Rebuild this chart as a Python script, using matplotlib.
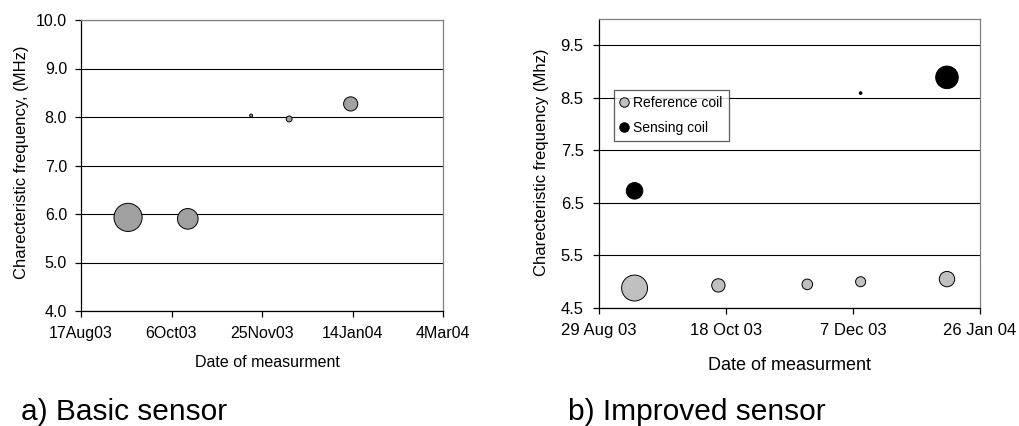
import datetime as dt
import matplotlib
matplotlib.use("Agg")
import matplotlib.pyplot as plt
from matplotlib.lines import Line2D

plt.rcParams['font.family'] = ['Liberation Sans', 'DejaVu Sans']

# ---- data -------------------------------------------------------------
# a) Basic sensor
basic_dates = ["2003-09-12", "2003-10-15", "2003-11-19", "2003-12-10", "2004-01-13"]
basic_freq = [5.93, 5.90, 8.03, 7.96, 8.27]
basic_size = [205, 110, 2.3, 9, 52]

# b) Improved sensor
ref_dates = ["2003-09-12", "2003-10-15", "2003-11-19", "2003-12-10", "2004-01-13"]
ref_freq = [4.88, 4.93, 4.95, 5.00, 5.05]
ref_size = [174, 46, 29, 26, 61]

sens_dates = ["2003-09-12", "2003-12-10", "2004-01-13"]
sens_freq = [6.73, 8.59, 8.89]
sens_size = [71, 1.8, 132]

basic_xticks = ["2003-08-17", "2003-10-06", "2003-11-25", "2004-01-14", "2004-03-04"]
basic_xticklabels = ["17Aug03", "6Oct03", "25Nov03", "14Jan04", "4Mar04"]
basic_yticks = [4.0, 5.0, 6.0, 7.0, 8.0, 9.0, 10.0]

improved_xticks = ["2003-08-29", "2003-10-18", "2003-12-07", "2004-01-26"]
improved_xticklabels = ["29 Aug 03", "18 Oct 03", "7 Dec 03", "26 Jan 04"]
improved_yticks = [4.5, 5.5, 6.5, 7.5, 8.5, 9.5]

# bubble size value -> marker area in pt^2
SIZE_TO_PT2 = 2.0


def to_dates(seq):
    return [dt.datetime.strptime(s, "%Y-%m-%d") for s in seq]


def style_axes(ax, xticks, xlabels, yticks, ylim, tick_fs, xpad, ypad):
    xt = to_dates(xticks)
    ax.set_xlim(xt[0], xt[-1])
    ax.set_xticks(xt)
    ax.set_xticklabels(xlabels)
    ax.set_ylim(*ylim)
    ax.set_yticks(yticks)
    ax.set_yticklabels([f"{v:.1f}" for v in yticks])
    ax.yaxis.grid(True, color="black", linewidth=0.8)
    ax.set_axisbelow(True)
    for side in ("left", "bottom"):
        ax.spines[side].set_color("black")
        ax.spines[side].set_linewidth(0.9)
    for side in ("top", "right"):
        ax.spines[side].set_color("#808080")
        ax.spines[side].set_linewidth(0.9)
    ax.tick_params(axis="x", direction="out", length=4, width=0.9,
                   labelsize=tick_fs, pad=xpad)
    ax.tick_params(axis="y", direction="out", length=4, width=0.9,
                   labelsize=tick_fs, pad=ypad)


fig = plt.figure(figsize=(10.19, 4.26), dpi=100)

# ---- a) basic sensor --------------------------------------------------
ax1 = fig.add_axes([81 / 1019, 1 - 311 / 426, (443 - 81) / 1019, (311 - 20) / 426])
ax1.scatter(to_dates(basic_dates), basic_freq,
            s=[v * SIZE_TO_PT2 for v in basic_size],
            facecolor="#a0a0a0", edgecolor="black", linewidth=0.7, zorder=3)
style_axes(ax1, basic_xticks, basic_xticklabels, basic_yticks, (4.0, 10.0), 11.5, 7, 6)
ax1.set_ylabel("Charecteristic frequency, (MHz)", fontsize=12)
ax1.set_xlabel("Date of measurment", fontsize=11.5)
ax1.yaxis.label.set_va("center")
ax1.xaxis.label.set_va("center")
ax1.yaxis.set_label_coords(-0.163, 0.51)
ax1.xaxis.set_label_coords(0.516, -0.178)

# ---- b) improved sensor -----------------------------------------------
ax2 = fig.add_axes([599 / 1019, 1 - 308 / 426, (980 - 599) / 1019, (308 - 19) / 426])
ax2.scatter(to_dates(ref_dates), ref_freq,
            s=[v * SIZE_TO_PT2 for v in ref_size],
            facecolor="#c0c0c0", edgecolor="black", linewidth=0.7, zorder=3)
ax2.scatter(to_dates(sens_dates), sens_freq,
            s=[v * SIZE_TO_PT2 for v in sens_size],
            facecolor="black", edgecolor="black", linewidth=0.7, zorder=3)
style_axes(ax2, improved_xticks, improved_xticklabels, improved_yticks, (4.5, 10.0), 12, 6.5, 7)
ax2.set_ylabel("Charecteristic frequency (Mhz)", fontsize=12)
ax2.set_xlabel("Date of measurment", fontsize=13)
ax2.yaxis.label.set_va("center")
ax2.xaxis.label.set_va("center")
ax2.yaxis.set_label_coords(-0.150, 0.503)
ax2.xaxis.set_label_coords(0.50, -0.198)

handles = [
    Line2D([], [], linestyle="none", marker="o", markersize=6.8,
           markerfacecolor="#c0c0c0", markeredgecolor="black", markeredgewidth=0.7),
    Line2D([], [], linestyle="none", marker="o", markersize=6.8,
           markerfacecolor="black", markeredgecolor="black", markeredgewidth=0.7),
]
leg = fig.legend(handles, ["Reference coil", "Sensing coil"],
                 loc="upper left", bbox_to_anchor=(614 / 1019, 1 - 90 / 426),
                 borderaxespad=0, fontsize=10, frameon=True, fancybox=False,
                 shadow=False, handlelength=0.5, handletextpad=0.45,
                 borderpad=0.45, labelspacing=0.75)
leg.get_frame().set_edgecolor("#333333")
leg.get_frame().set_linewidth(0.9)

# ---- captions ---------------------------------------------------------
fig.text(21 / 1019, 1 - 420 / 426, "a) Basic sensor", fontsize=21.5, va="baseline")
fig.text(568 / 1019, 1 - 420 / 426, "b) Improved sensor", fontsize=21.5, va="baseline")

fig.savefig("out.png", dpi=100)
